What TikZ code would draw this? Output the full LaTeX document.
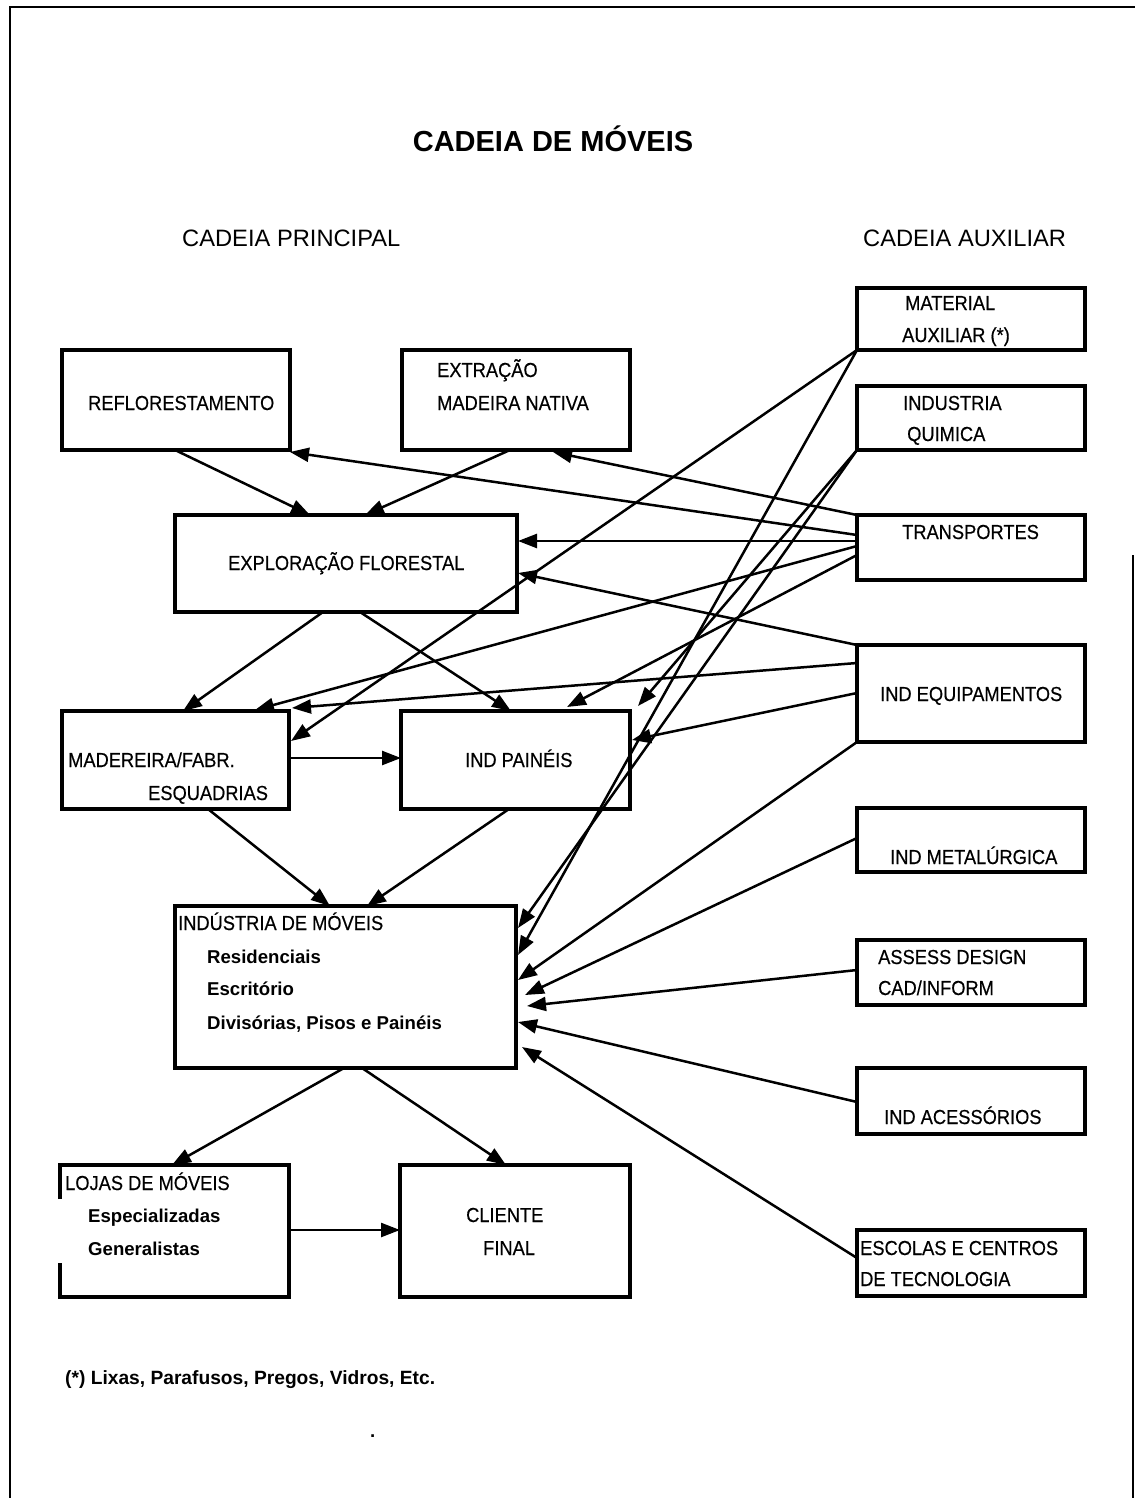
\documentclass[tikz,border=0pt]{standalone}
\usepackage{fontspec}
\setmainfont{Liberation Sans}
\newfontfamily\narrowsans[FakeStretch=0.9,FakeBold=0.4]{Liberation Sans}
\usetikzlibrary{arrows.meta,calc}

\newcommand\dgBoxFont{\narrowsans\fontsize{20.3}{24}\selectfont}
\newcommand\dgItemFont{\bfseries\fontsize{18.6}{22}\selectfont}
\newcommand\dgNoteFont{\bfseries\fontsize{19.2}{22}\selectfont}
\newcommand\dgHeadFont{\fontsize{23.7}{28}\selectfont}
\newcommand\dgTitleFont{\bfseries\fontsize{29}{34}\selectfont}

\begin{document}
\begin{tikzpicture}[x=1pt,y=-1pt,
  box/.style={draw, line width=3.3pt, inner sep=0pt, outer sep=0pt, anchor=north west},
  lbl/.style={anchor=base west, inner sep=0pt, font=\dgBoxFont},
  item/.style={anchor=base west, inner sep=0pt, font=\dgItemFont},
  head/.style={anchor=base west, inner sep=0pt, font=\dgHeadFont},
  link/.style={line width=2.5pt, -{Triangle[length=19pt,width=14pt]}},
]
\useasboundingbox (0,0) rectangle (1135,1498);

% page frame
\draw[line width=2pt] (10,1498) -- (10,7) -- (1135,7);
\draw[line width=1.4pt] (1133,555) -- (1133,1498);

% headings
\node[anchor=base, inner sep=0pt, font=\dgTitleFont] (title) at (553,152) {CADEIA DE MÓVEIS};
\node[head] (hmain) at (182,246.5) {CADEIA PRINCIPAL};
\node[head] (haux) at (863,246.5) {CADEIA AUXILIAR};

% auxiliary chain boxes
\node[box, minimum width=228pt, minimum height=62pt] (mat) at (857,288) {};
\node[box, minimum width=228pt, minimum height=64pt] (quim) at (857,386) {};
\node[box, minimum width=228pt, minimum height=65pt] (transp) at (857,515) {};
\node[box, minimum width=228pt, minimum height=97pt] (equip) at (857,645) {};
\node[box, minimum width=228pt, minimum height=64pt] (metal) at (857,808) {};
\node[box, minimum width=228pt, minimum height=65pt] (assess) at (857,940) {};
\node[box, minimum width=228pt, minimum height=66pt] (acess) at (857,1068) {};
\node[box, minimum width=228pt, minimum height=66pt] (escolas) at (857,1230) {};

% main chain boxes
\node[box, minimum width=228pt, minimum height=100pt] (refl) at (62,350) {};
\node[box, minimum width=228pt, minimum height=100pt] (extr) at (402,350) {};
\node[box, minimum width=342pt, minimum height=97pt] (explo) at (175,515) {};
\node[box, minimum width=227pt, minimum height=98pt] (mad) at (62,711) {};
\node[box, minimum width=229pt, minimum height=98pt] (pain) at (401,711) {};
\node[box, minimum width=341pt, minimum height=162pt] (ind) at (175,906) {};
\node[box, draw=none, minimum width=229pt, minimum height=132pt] (lojas) at (60,1165) {};
\draw[line width=3.3pt] ($(lojas.north west)+(0,34)$) -- (lojas.north west) -- (lojas.north east)
  -- (lojas.south east) -- (lojas.south west) -- ++(0,-34);
\node[box, minimum width=230pt, minimum height=132pt] (cliente) at (400,1165) {};

% box texts
\node[lbl] (tmat1) at (905,310) {MATERIAL};
\node[lbl] (tmat2) at (902,342) {AUXILIAR (*)};
\node[lbl] (tquim1) at (903,410) {INDUSTRIA};
\node[lbl] (tquim2) at (907,441) {QUIMICA};
\node[lbl] (ttransp) at (902,539) {TRANSPORTES};
\node[lbl] (tequip) at (880,701) {IND EQUIPAMENTOS};
\node[lbl] (tmetal) at (890,864) {IND METALÚRGICA};
\node[lbl] (tassess1) at (878,964) {ASSESS DESIGN};
\node[lbl] (tassess2) at (878,995) {CAD/INFORM};
\node[lbl] (tacess) at (884,1124) {IND ACESSÓRIOS};
\node[lbl] (tesc1) at (860,1255) {ESCOLAS E CENTROS};
\node[lbl] (tesc2) at (860,1286) {DE TECNOLOGIA};

\node[lbl] (trefl) at (88,410) {REFLORESTAMENTO};
\node[lbl] (textr1) at (437,377) {EXTRAÇÃO};
\node[lbl] (textr2) at (437,410) {MADEIRA NATIVA};
\node[lbl] (texplo) at (228,570) {EXPLORAÇÃO FLORESTAL};
\node[lbl] (tmad1) at (68,767) {MADEREIRA/FABR.};
\node[lbl] (tmad2) at (148,800) {ESQUADRIAS};
\node[lbl] (tpain) at (465,767) {IND PAINÉIS};
\node[lbl] (tind) at (178,930) {INDÚSTRIA DE MÓVEIS};
\node[item] (tind1) at (207,963) {Residenciais};
\node[item] (tind2) at (207,995) {Escritório};
\node[item] (tind3) at (207,1029) {Divisórias, Pisos e Painéis};
\node[lbl] (tlojas) at (65,1190) {LOJAS DE MÓVEIS};
\node[item] (tlojas1) at (88,1222) {Especializadas};
\node[item] (tlojas2) at (88,1255) {Generalistas};
\node[lbl] (tcli1) at (466,1222) {CLIENTE};
\node[lbl] (tcli2) at (483,1255) {FINAL};

% footnote
\node[anchor=base west, inner sep=0pt, font=\dgNoteFont] (note) at (65,1384) {(*) Lixas, Parafusos, Pregos, Vidros, Etc.};
\node[item] (dot) at (370,1437) {.};

% main chain flows
\draw[link] ($(refl.south west)+(113,0)$) -- ($(explo.north west)+(135,0)$);
\draw[link] ($(extr.south west)+(108,0)$) -- ($(explo.north west)+(190,0)$);
\draw[link] ($(explo.south west)+(148,0)$) -- ($(mad.north west)+(121,0)$);
\draw[link] ($(explo.south west)+(185,0)$) -- ($(pain.north west)+(110,0)$);
\draw[link] ($(mad.north east)+(0,47)$) -- ($(pain.north west)+(0,47)$);
\draw[link] ($(mad.south west)+(146,0)$) -- ($(ind.north west)+(155,0)$);
\draw[link] ($(pain.south west)+(108,0)$) -- ($(ind.north west)+(192,0)$);
\draw[link] ($(ind.south west)+(169,0)$) -- ($(lojas.north west)+(112,0)$);
\draw[link] ($(ind.south west)+(187,0)$) -- ($(cliente.north west)+(106,0)$);
\draw[link] ($(lojas.north east)+(0,65)$) -- ($(cliente.north west)+(0,65)$);

% auxiliary chain flows
\draw[link] (mat.south west) -- ($(mad.north east)+(2,30)$);
\draw[link] (mat.south west) -- ($(ind.north east)+(2,49)$);
\draw[link] (quim.south west) -- ($(pain.north east)+(8,-5)$);
\draw[link] (quim.south west) -- ($(ind.north east)+(2,22)$);
\draw[link] (transp.north west) -- ($(extr.south west)+(151,2)$);
\draw[link] ($(transp.north west)+(0,20)$) -- ($(refl.south east)+(0,2)$);
\draw[link] ($(transp.north west)+(0,26)$) -- ($(explo.north east)+(1,26)$);
\draw[link] ($(transp.north west)+(0,31)$) -- ($(mad.north west)+(193,-1)$);
\draw[link] ($(transp.north west)+(0,40)$) -- ($(pain.north west)+(166,-4)$);
\draw[link] (equip.north west) -- ($(explo.north east)+(1,58)$);
\draw[link] ($(equip.north west)+(0,18)$) -- ($(mad.north east)+(3,-3)$);
\draw[link] ($(equip.north west)+(0,48)$) -- ($(pain.north east)+(2,29)$);
\draw[link] (equip.south west) -- ($(ind.north east)+(2,74)$);
\draw[link] ($(metal.north west)+(0,30)$) -- ($(ind.north east)+(9,89)$);
\draw[link] ($(assess.north west)+(0,30)$) -- ($(ind.north east)+(11,100)$);
\draw[link] ($(acess.north west)+(0,34)$) -- ($(ind.north east)+(2,116)$);
\draw[link] ($(escolas.north west)+(0,28)$) -- ($(ind.north east)+(6,141)$);
\end{tikzpicture}
\end{document}
